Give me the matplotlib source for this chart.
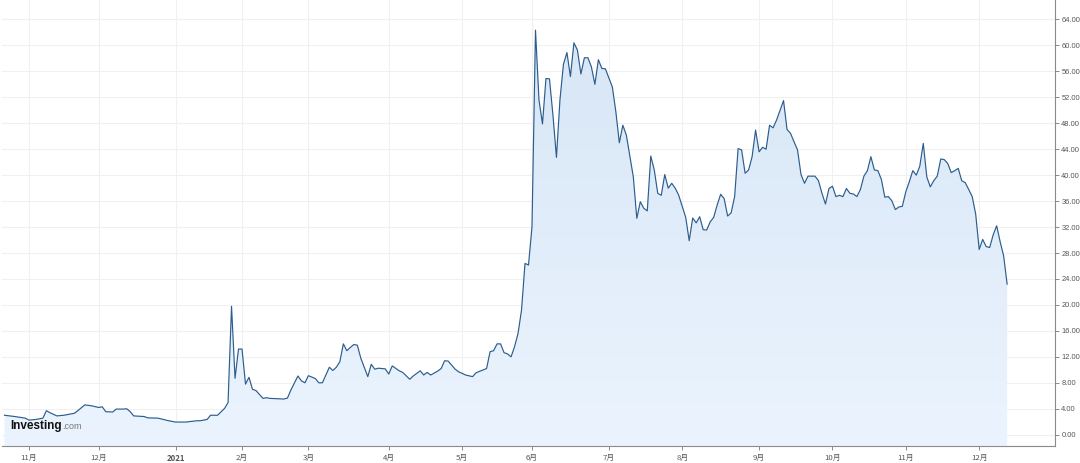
import numpy as np
import pandas as pd
import matplotlib
matplotlib.use("Agg")
import matplotlib.pyplot as plt
from matplotlib.colors import LinearSegmentedColormap

# ---- data: trading-session number (since 2020-10-22) and closing price ----
sessions = [0, 3, 6, 7, 9, 11, 12, 13, 15, 17, 19, 20, 21, 23, 25, 27, 28, 29, 31, 32,
            34, 35, 36, 37, 40, 41, 44, 47, 49, 52, 55, 56, 58, 59, 61, 63, 64, 65, 66, 67,
            68, 69, 70, 71, 72, 74, 75, 76, 80, 81, 82, 84, 85, 86, 87, 89, 90, 91, 93, 94,
            95, 96, 97, 98, 99, 100, 101, 102, 104, 105, 106, 107, 109, 110, 111, 113, 114, 116, 117, 119,
            120, 121, 122, 124, 125, 126, 127, 129, 130, 132, 134, 135, 138, 139, 140, 141, 142, 143, 144, 145,
            146, 147, 148, 149, 150, 151, 152, 153, 154, 155, 156, 157, 158, 159, 160, 161, 162, 163, 164, 165,
            166, 167, 168, 169, 170, 171, 172, 174, 175, 176, 177, 178, 180, 181, 182, 183, 184, 185, 186, 187,
            188, 189, 190, 191, 192, 193, 195, 196, 197, 198, 199, 200, 201, 202, 203, 204, 205, 206, 207, 208,
            209, 210, 211, 212, 213, 214, 215, 216, 217, 218, 219, 220, 221, 223, 224, 225, 226, 227, 228, 229,
            230, 232, 233, 234, 235, 236, 237, 238, 239, 240, 241, 242, 243, 244, 245, 246, 247, 248, 249, 250,
            251, 252, 253, 254, 255, 256, 257, 258, 259, 260, 261, 262, 263, 264, 265, 266, 267, 268, 269, 270,
            271, 272, 273, 274, 275, 276, 277, 278, 279, 280, 281, 282, 283, 284, 285, 286, 287]
values = [3.0, 2.8, 2.55, 2.25, 2.35, 2.55, 3.7, 3.4, 2.9, 3.0, 3.2, 3.3, 3.7, 4.6, 4.45, 4.2, 4.3, 3.55, 3.5, 3.95,
          3.95, 4.0, 3.55, 2.9, 2.8, 2.6, 2.55, 2.15, 1.95, 1.95, 2.15, 2.15, 2.35, 3.0, 3.0, 4.05, 4.95, 19.8, 8.7, 13.2,
          13.2, 7.8, 8.85, 7.0, 6.8, 5.6, 5.7, 5.6, 5.5, 5.65, 6.9, 9.05, 8.3, 8.0, 9.1, 8.65, 8.0, 8.0, 10.4, 9.9,
          10.4, 11.25, 14.0, 12.95, 13.45, 13.9, 13.8, 11.8, 8.95, 10.85, 10.1, 10.25, 10.15, 9.35, 10.6, 9.85, 9.6, 8.55, 9.05, 9.85,
          9.2, 9.6, 9.2, 9.8, 10.2, 11.4, 11.35, 10.1, 9.7, 9.2, 8.95, 9.55, 10.2, 12.8, 12.95, 14.0, 14.0, 12.65, 12.45, 12.0,
          13.55, 15.6, 19.2, 26.4, 26.15, 32.05, 62.35, 51.6, 47.9, 54.9, 54.85, 49.25, 42.75, 51.6, 57.1, 58.9, 55.2, 60.4, 59.3, 55.6,
          58.1, 58.1, 56.7, 54.0, 57.8, 56.45, 56.4, 53.6, 49.8, 45.0, 47.7, 46.2, 39.75, 33.35, 35.9, 34.9, 34.5, 42.95, 40.8, 37.2,
          36.9, 40.1, 38.0, 38.75, 38.0, 36.9, 33.5, 29.9, 33.4, 32.65, 33.6, 31.6, 31.55, 32.8, 33.5, 35.4, 37.05, 36.4, 33.7, 34.2,
          36.7, 44.1, 43.9, 40.3, 40.8, 42.85, 46.95, 43.6, 44.3, 44.0, 47.7, 47.3, 48.5, 51.5, 47.05, 46.45, 45.15, 43.9, 40.1, 38.75,
          39.85, 39.85, 39.15, 37.2, 35.55, 37.95, 38.3, 36.7, 36.9, 36.7, 37.95, 37.2, 37.1, 36.7, 37.8, 39.85, 40.7, 42.85, 40.8, 40.7,
          39.35, 36.6, 36.7, 36.05, 34.7, 35.1, 35.2, 37.45, 39.0, 40.7, 40.0, 41.4, 44.9, 39.75, 38.2, 39.15, 39.85, 42.5, 42.4, 41.8,
          40.4, 40.7, 41.05, 39.15, 38.85, 37.8, 36.7, 34.0, 28.55, 30.1, 29.0, 28.85, 30.8, 32.2, 29.75, 27.55, 23.2]

start_date = "2020-10-22"
end_date = "2021-12-31"
market_holidays = ["2020-11-26", "2020-12-25", "2021-01-01", "2021-01-18", "2021-02-15",
                   "2021-04-02", "2021-05-31", "2021-07-05", "2021-09-06", "2021-11-25"]
y_ticks = list(range(0, 65, 4))

# ---- trading calendar -> month ticks ----
cal = pd.bdate_range(start_date, end_date, freq="C", holidays=market_holidays)
tick_pos, tick_lab = [], []
for i in range(1, len(cal)):
    if cal[i].month != cal[i - 1].month:
        tick_pos.append(i)
        tick_lab.append(str(cal[i].year) if cal[i].month == 1 else f"{cal[i].month}月")

W, H = 1080, 463
fig = plt.figure(figsize=(W / 100, H / 100), dpi=100)
fig.patch.set_facecolor("white")
ax = fig.add_axes([2 / W, 17 / H, 1053 / W, 446 / H])

xmin, xmax = -0.7, 300.7
ymin, ymax = -1.74, 67.0
ax.set_xlim(xmin, xmax)
ax.set_ylim(ymin, ymax)

# grid
for y in y_ticks:
    ax.axhline(y, color="#f0f0f0", lw=0.8, zorder=0)
for p in tick_pos:
    ax.axvline(p, color="#f0f0f0", lw=0.8, zorder=0)

# gradient fill under line
fill = ax.fill_between(sessions, values, ymin, facecolor="none", edgecolor="none", zorder=1)
grad = np.linspace(1, 0, 256).reshape(-1, 1)
cmap = LinearSegmentedColormap.from_list("g", ["#ebf4fe", "#d6e5f5"])
im = ax.imshow(grad, extent=[xmin, xmax, ymin, ymax], aspect="auto", cmap=cmap,
               origin="upper", zorder=1, interpolation="bilinear")
im.set_clip_path(fill.get_paths()[0], transform=ax.transData)

ax.plot(sessions, values, color="#2c5d8e", lw=0.85, zorder=3)

# axes styling
for s in ["top", "left"]:
    ax.spines[s].set_visible(False)
for s in ["right", "bottom"]:
    ax.spines[s].set_color("#8a8a8a")
    ax.spines[s].set_linewidth(0.8)

ax.yaxis.tick_right()
ax.set_yticks(y_ticks)
ax.set_yticklabels([f"{v:.2f}" for v in y_ticks])
ax.set_xticks(tick_pos)
ax.set_xticklabels(tick_lab)
ax.tick_params(axis="both", direction="out", length=3, width=0.7, color="#8a8a8a",
               labelcolor="#555555")
ax.tick_params(axis="y", pad=1.5, labelsize=5.4)
ax.tick_params(axis="x", pad=3, labelsize=5.6)
for lab in ax.get_yticklabels():
    lab.set_family("Liberation Sans")
for lab in ax.get_xticklabels():
    lab.set_family(["Noto Sans CJK SC", "DejaVu Sans"])
    if lab.get_text().isdigit():
        lab.set_fontweight("bold")

# watermark logo
fig.text(10 / W, (H - 429) / H, "Investing", fontsize=8.5, fontweight="bold",
         family="Liberation Sans", color="#111111", va="baseline", ha="left")
fig.text(62 / W, (H - 429) / H, ".com", fontsize=6.5, family="Liberation Sans",
         color="#777777", va="baseline", ha="left")

fig.savefig("out.png", dpi=100, facecolor="white")
